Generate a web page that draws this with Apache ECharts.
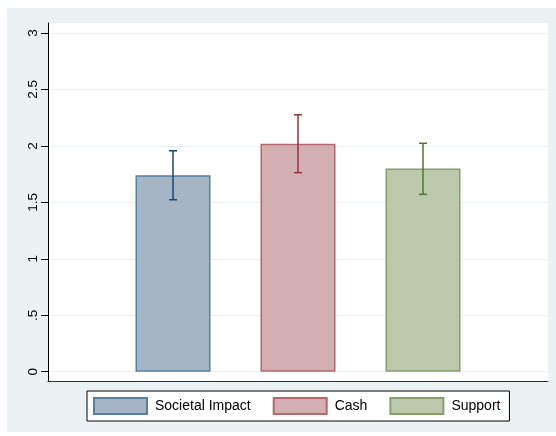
<!DOCTYPE html>
<html>
<head>
<meta charset="utf-8">
<script src="https://cdn.jsdelivr.net/npm/echarts@6/dist/echarts.min.js"></script>
<style>
html,body{margin:0;padding:0;background:#fff;width:556px;height:436px;overflow:hidden;}
#c{position:absolute;left:7px;top:8px;width:549px;height:424px;}
</style>
</head>
<body>
<div id="c"></div>
<script>
const categories = ['Societal Impact', 'Cash', 'Support'];
const positions = [1, 2, 3];
const means = [1.74, 2.02, 1.80];
const errLow = [1.523, 1.763, 1.571];
const errHigh = [1.957, 2.276, 2.023];
const yTicks = [0, 0.5, 1, 1.5, 2, 2.5, 3];
const yTickLabels = ['0', '.5', '1', '1.5', '2', '2.5', '3'];

const fills = ['#A5B5C6', '#D3AFB2', '#BCC9AC'];
const borders = ['#5A7FA1', '#B2686D', '#879E6C'];
const errColors = ['#1A476F', '#90353B', '#55752F'];

const chart = echarts.init(document.getElementById('c'));

const series = categories.map((name, i) => ({
  name: name,
  type: 'bar',
  barWidth: 75,
  barGap: '-100%',
  data: [[positions[i], means[i]]],
  itemStyle: { color: fills[i], borderColor: borders[i], borderWidth: 1.5 },
  emphasis: { disabled: true },
  silent: true
}));

series.push({
  type: 'custom',
  silent: true,
  data: positions.map((p, i) => [p, errLow[i], errHigh[i], i]),
  renderItem: function (params, api) {
    const x = api.value(0);
    const lo = api.coord([x, api.value(1)]);
    const hi = api.coord([x, api.value(2)]);
    const c = errColors[api.value(3)];
    const hw = 4;
    const st = { stroke: c, lineWidth: 1.5 };
    return {
      type: 'group',
      children: [
        { type: 'line', shape: { x1: lo[0], y1: lo[1], x2: hi[0], y2: hi[1] }, style: st },
        { type: 'line', shape: { x1: hi[0] - hw, y1: hi[1], x2: hi[0] + hw, y2: hi[1] }, style: st },
        { type: 'line', shape: { x1: lo[0] - hw, y1: lo[1], x2: lo[0] + hw, y2: lo[1] }, style: st }
      ]
    };
  },
  z: 5
});

chart.setOption({
  backgroundColor: '#EAF2F3',
  animation: false,
  grid: {
    left: 41, top: 15, right: 8, bottom: 51,
    show: true, backgroundColor: '#ffffff', borderWidth: 0
  },
  legend: {
    data: categories,
    left: 80, top: 383,
    orient: 'horizontal',
    backgroundColor: '#ffffff',
    borderColor: '#000000',
    borderWidth: 1,
    borderRadius: 0,
    padding: [6, 9, 6, 6],
    itemWidth: 53,
    itemHeight: 16,
    itemGap: 22,
    icon: 'rect',
    selectedMode: false,
    textStyle: { fontFamily: 'Liberation Sans, Arial, sans-serif', fontSize: 14, color: '#000', padding: [0, 0, 0, 3] }
  },
  xAxis: {
    type: 'value',
    min: 0, max: 4,
    axisLine: { show: true, onZero: false, lineStyle: { color: '#333', width: 1 } },
    axisTick: { show: false },
    axisLabel: { show: false },
    splitLine: { show: false }
  },
  yAxis: {
    type: 'value',
    min: -0.0823, max: 3.0885,
    axisLine: { show: true, lineStyle: { color: '#000', width: 1 } },
    axisTick: { show: true, length: 7, lineStyle: { color: '#000' }, customValues: yTicks },
    axisLabel: {
      customValues: yTicks,
      rotate: 90,
      margin: 8,
      fontFamily: 'Liberation Sans, Arial, sans-serif',
      fontSize: 13.5,
      color: '#000',
      formatter: function (v) {
        const idx = yTicks.findIndex(t => Math.abs(t - v) < 1e-9);
        return idx >= 0 ? yTickLabels[idx] : '';
      }
    },
    splitLine: { show: true, lineStyle: { color: '#EAF2F3', width: 1 } }
  },
  series: series
});
</script>
</body>
</html>
